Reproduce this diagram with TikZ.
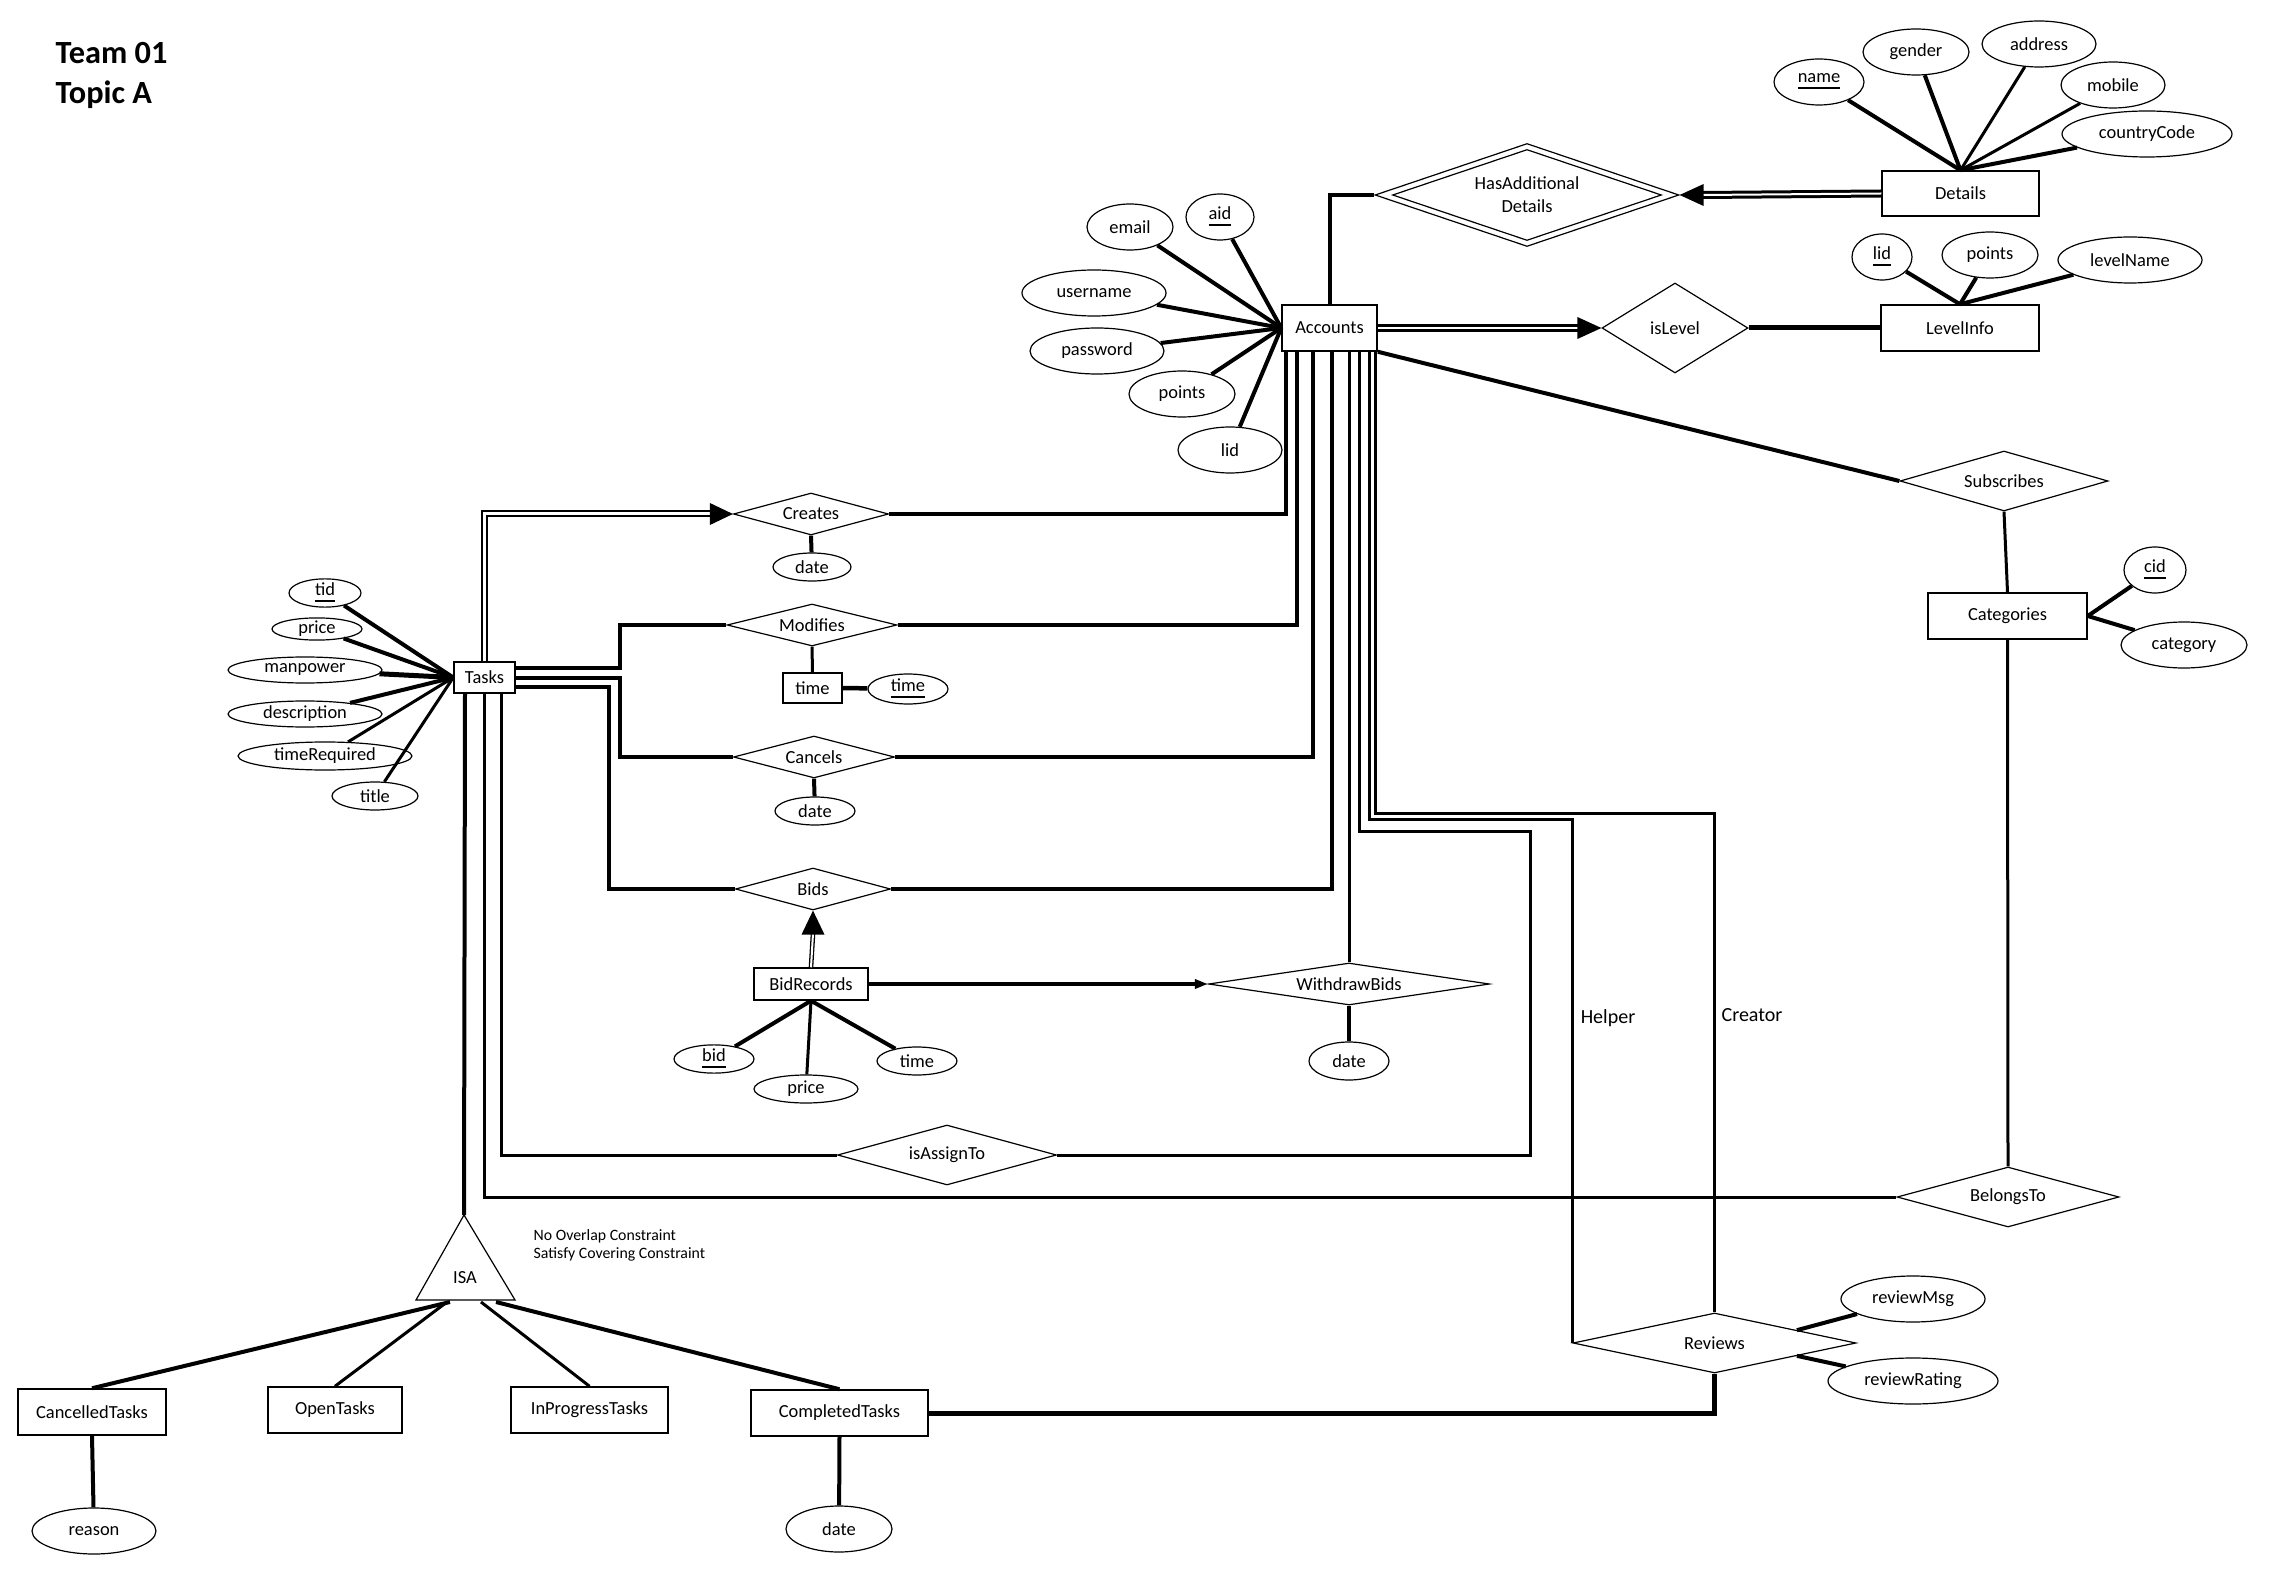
\documentclass[tikz,border=0pt]{standalone}
\usepackage{fontspec}
\setmainfont{Carlito}
\usetikzlibrary{shapes.geometric,calc,arrows.meta}
\newcommand\erlbl{\fontsize{5.25}{6.5}\selectfont}
\newcommand\erttl{\fontsize{9.2}{11}\selectfont\bfseries}
\newcommand\ernote{\fontsize{4.5}{5.4}\selectfont}
\newcommand\ersub{\fontsize{5.7}{6.8}\selectfont}
\begin{document}
\begin{tikzpicture}[x=0.1mm,y=-0.1mm,
  ent/.style={rectangle,draw,line width=0.15mm,inner sep=0pt,font=\erlbl},
  attr/.style={ellipse,draw,line width=0.12mm,inner sep=0pt,font=\erlbl},
  rel/.style={diamond,draw,line width=0.12mm,inner sep=0pt,font=\erlbl},
  lk/.style={line width=0.4mm},
  lkm/.style={line width=0.3mm},
  lkb/.style={line width=0.5mm},
  dbl/.style={double,line width=0.3mm,double distance=0.2mm},
  dbls/.style={double,line width=0.2mm,double distance=0.3mm},
  dblt/.style={double,line width=0.13mm,double distance=0.2mm},
  txt/.style={inner sep=0pt}
]
\fill[white] (0,0) rectangle (2275,1581);
\useasboundingbox (0,0) rectangle (2275,1581);

% title
\node[txt,font=\erttl,anchor=west] (t1) at (55,53) {Team 01};
\node[txt,font=\erttl,anchor=west] (t2) at (55,95) {Topic A};

% Accounts
\node[ent,minimum width=9.5mm,minimum height=4.6mm] (acc) at (1329.5,328) {Accounts};
\node[attr,minimum width=8.6mm,minimum height=4.6mm] (email) at (1130,227) {email};
\node[attr,minimum width=6.8mm,minimum height=4.6mm] (aid) at (1220,217) {\underline{aid}};
\node[attr,minimum width=14.4mm,minimum height=4.6mm] (uname) at (1094,293) {username};
\node[attr,minimum width=13.4mm,minimum height=4.6mm] (pwd) at (1097,351) {password};
\node[attr,minimum width=10.6mm,minimum height=4.6mm] (apts) at (1182,394) {points};
\node[attr,minimum width=10.4mm,minimum height=4.6mm] (alid) at (1230,450) {lid};
\foreach \a in {email,aid,uname,pwd,apts,alid} \draw[lk] (\a) -- (acc.west);

% Details
\node[ent,minimum width=15.7mm,minimum height=4.5mm] (det) at (1960.5,193.5) {Details};
\node[attr,minimum width=9mm,minimum height=4.6mm] (dname) at (1819,82) {\underline{name}};
\node[attr,minimum width=10.6mm,minimum height=4.6mm] (dgen) at (1916,52) {gender};
\node[attr,minimum width=11.4mm,minimum height=4.6mm] (daddr) at (2039,44) {address};
\node[attr,minimum width=10.4mm,minimum height=4.6mm] (dmob) at (2113,85) {mobile};
\node[attr,minimum width=17mm,minimum height=4.6mm] (dcc) at (2147,134) {countryCode};
\draw[lk] (dname) -- (det.north);
\draw[lk] (dgen) -- (det.north);
\draw[lkm] (daddr) -- (det.north);
\draw[lkm] (dmob) -- (det.north);
\draw[lk] (dcc) -- (det.north);

% HasAdditionalDetails
\node[rel,minimum width=30.4mm,minimum height=10.3mm,shape aspect=2.95,align=center] (had) at (1527,195) {HasAdditional\\Details};
\node[rel,minimum width=26.9mm,minimum height=9.1mm,shape aspect=2.95] (hadin) at (1527,195) {};
\draw[lk] (acc.north) |- (had.west);
\draw[dbl] (det.west) -- ($(had.east)+(23,0)$);
\fill (had.east) -- ++(24,-11) -- ++(0,22) -- cycle;

% isLevel / LevelInfo
\node[rel,minimum width=14.6mm,minimum height=9mm,shape aspect=1.62] (isl) at (1675,328) {isLevel};
\node[ent,minimum width=15.8mm,minimum height=4.6mm] (lvl) at (1960,328) {LevelInfo};
\node[attr,minimum width=6mm,minimum height=4.6mm] (llid) at (1882,257) {\underline{lid}};
\node[attr,minimum width=9.6mm,minimum height=4.6mm] (lpts) at (1990,255) {points};
\node[attr,minimum width=14.4mm,minimum height=4.6mm] (lname) at (2130,260) {levelName};
\draw[lk] (llid) -- (lvl.north);
\draw[lk] (lpts) -- (lvl.north);
\draw[lk] (lname) -- (lvl.north);
\draw[dbl] (acc.east) -- ($(isl.west)+(-23,0)$);
\fill (isl.west) -- ++(-24,-11) -- ++(0,22) -- cycle;
\draw[lkb] (isl.east) -- (lvl.west);

% Subscribes / Categories
\node[rel,minimum width=20.8mm,minimum height=6mm,shape aspect=3.47] (sub) at (2004,481) {Subscribes};
\draw[lk] (acc.south east) -- (sub.west);
\node[ent,minimum width=15.9mm,minimum height=4.6mm] (cat) at (2007.5,616) {Categories};
\draw[lkm] (sub.south) -- (cat.north);
\node[attr,minimum width=6.2mm,minimum height=4.6mm] (cid) at (2155,570) {\underline{cid}};
\node[attr,minimum width=12.6mm,minimum height=4.6mm] (ccat) at (2184,645) {category};
\draw[lk] (cid) -- (cat.east);
\draw[lk] (ccat) -- (cat.east);
\node[rel,minimum width=22.2mm,minimum height=6mm,shape aspect=3.7] (bel) at (2008,1197) {BelongsTo};
\draw[lkm] (cat.south) -- (bel.north);

% Tasks
\node[ent,minimum width=6.1mm,minimum height=3.1mm] (tasks) at (484.5,677.5) {Tasks};
\node[attr,minimum width=7.2mm,minimum height=2.8mm] (ttid) at (325,593) {\underline{tid}};
\node[attr,minimum width=9mm,minimum height=2.2mm] (tprice) at (317,629) {price};
\node[attr,minimum width=15.4mm,minimum height=2.6mm] (tman) at (305,670) {manpower};
\node[attr,minimum width=15.4mm,minimum height=2.6mm] (tdesc) at (305,714) {description};
\node[attr,minimum width=17.4mm,minimum height=2.8mm] (ttr) at (325,756) {timeRequired};
\node[attr,minimum width=8.6mm,minimum height=2.8mm] (ttitle) at (375,796) {title};
\draw[lk] (ttid) -- (tasks.west);
\draw[lk] (tprice) -- (tasks.west);
\draw[lkb] (tman) -- (tasks.west);
\draw[lk] (tdesc) -- (tasks.west);
\draw[lkm] (ttr) -- (tasks.west);
\draw[lkm] (ttitle) -- (tasks.west);

% Creates
\node[rel,minimum width=15.5mm,minimum height=4.2mm,shape aspect=3.69] (cre) at (811,514) {Creates};
\node[attr,minimum width=7.8mm,minimum height=2.8mm] (cred) at (812,567) {date};
\draw[lk] (cre.south) -- (cred);
\draw[dbls] (tasks.north) |- ($(cre.west)+(-22,0)$);
\fill (cre.west) -- ++(-23,-11) -- ++(0,22) -- cycle;
\draw[lk] (cre.east) -| ($(acc.south west)+(5,0)$);

% Modifies
\node[rel,minimum width=17mm,minimum height=4.2mm,shape aspect=4.05] (mod) at (812,625) {Modifies};
\node[ent,minimum width=5.9mm,minimum height=3mm] (mtime) at (812.5,688) {time};
\node[attr,minimum width=8mm,minimum height=3mm] (mtimea) at (908,689) {\underline{time}};
\draw[lkm] (mod.south) -- (mtime.north);
\draw[line width=0.45mm] (mtime.east) -- (mtimea);
\draw[lk] ($(tasks.east)+(0,-10)$) -| ($(mod.west)+(-106,0)$) -- (mod.west);
\draw[lk] (mod.east) -| ($(acc.south west)+(16,0)$);

% Cancels
\node[rel,minimum width=16.1mm,minimum height=4.2mm,shape aspect=3.83] (can) at (814,757) {Cancels};
\node[attr,minimum width=8mm,minimum height=2.8mm] (cand) at (815,811) {date};
\draw[lk] (can.south) -- (cand);
\draw[lk] (tasks.east) -| ($(can.west)+(-113,0)$) -- (can.west);
\draw[lk] (can.east) -| ($(acc.south west)+(32,0)$);

% Bids
\node[rel,minimum width=15.5mm,minimum height=4.2mm,shape aspect=3.69] (bids) at (813,889) {Bids};
\draw[lk] ($(tasks.east)+(0,9)$) -| ($(bids.west)+(-126,0)$) -- (bids.west);
\draw[lk] (bids.east) -| ($(acc.south west)+(51,0)$);

% BidRecords
\node[ent,minimum width=11.4mm,minimum height=3.2mm] (brec) at (811,984) {BidRecords};
\draw[dblt] (brec.north) -- ($(bids.south)+(0,23)$);
\fill (bids.south) -- ++(-11.5,24) -- ++(23,0) -- cycle;
\node[attr,minimum width=8mm,minimum height=2.8mm] (bbid) at (714,1059) {\underline{bid}};
\node[attr,minimum width=10.4mm,minimum height=2.8mm] (bprice) at (806,1089) {price};
\node[attr,minimum width=8mm,minimum height=2.8mm] (btime) at (917,1061) {time};
\draw[lk] (brec.south) -- (bbid);
\draw[lkm] (brec.south) -- (bprice);
\draw[lk] (brec.south) -- (btime);

% WithdrawBids
\node[rel,minimum width=28.1mm,minimum height=4.2mm,shape aspect=6.69] (wb) at (1349,984) {WithdrawBids};
\draw[lk,-{Triangle[length=1.3mm,width=0.9mm]}] (brec.east) -- (wb.west);
\node[attr,minimum width=8mm,minimum height=3.8mm] (wbd) at (1349,1061) {date};
\draw[lk] (wb.south) -- (wbd);
\draw[lkm] (wb.north) -- (wb.north |- acc.south);

% isAssignTo
\node[rel,minimum width=21.9mm,minimum height=6mm,shape aspect=3.65] (asg) at (947,1155) {isAssignTo};
\draw[lkm] ($(tasks.south)+(16.5,0)$) |- (asg.west);
\draw[lkm] (asg.east) -| ($(asg.east)+(473,-324)$) -| ($(acc.south west)+(78,0)$);

% BelongsTo from Tasks
\draw[lkm] (tasks.south) |- (bel.west);

% ISA
\coordinate (isatop) at (464,1215);
\coordinate (isabl) at (416,1300);
\coordinate (isabr) at (515,1300);
\draw[line width=0.12mm] (isatop) -- (isabl) -- (isabr) -- cycle;
\node[txt,font=\erlbl] (isa) at (465,1278) {ISA};
\draw[lk] ($(tasks.south)+(-19.5,0)$) -- (isatop);
\node[txt,font=\ernote,anchor=west] (c1) at (533,1236) {No Overlap Constraint};
\node[txt,font=\ernote,anchor=west] (c2) at (533,1254) {Satisfy Covering Constraint};

\node[ent,minimum width=14.8mm,minimum height=4.6mm] (ct) at (92,1412) {CancelledTasks};
\node[ent,minimum width=13.4mm,minimum height=4.6mm] (ot) at (335,1410) {OpenTasks};
\node[ent,minimum width=15.7mm,minimum height=4.6mm] (ipt) at (589.5,1410) {InProgressTasks};
\node[ent,minimum width=17.7mm,minimum height=4.6mm] (cpt) at (839.5,1413) {CompletedTasks};
\coordinate (isab1) at (450,1302);
\coordinate (isab2) at (447,1302);
\coordinate (isab3) at (481,1302);
\coordinate (isab4) at (496,1302);
\draw[lk] (isab1) -- (ct.north);
\draw[lkm] (isab2) -- (ot.north);
\draw[lkm] (isab3) -- (ipt.north);
\draw[lk] (isab4) -- (cpt.north);
\node[attr,minimum width=12.4mm,minimum height=4.6mm] (rsn) at (94,1531) {reason};
\draw[lk] (ct.south) -- (rsn);
\node[attr,minimum width=10.6mm,minimum height=4.6mm] (cptd) at (839,1529) {date};
\draw[lk] (cpt.south) -- (cptd);

% Reviews
\node[rel,minimum width=28.3mm,minimum height=6mm,shape aspect=4.72] (rev) at (1714.5,1343) {Reviews};
\node[attr,minimum width=14.4mm,minimum height=4.6mm] (rmsg) at (1913,1299) {reviewMsg};
\node[attr,minimum width=17mm,minimum height=4.6mm] (rrat) at (1913,1381) {reviewRating};
\draw[lk] ($(rev.north)!0.58!(rev.east)$) -- (rmsg);
\draw[lk] ($(rev.south)!0.58!(rev.east)$) -- (rrat);
\draw[lkb] (rev.south) |- (cpt.east);
\draw[lkm] ($(acc.south west)+(88,0)$) |- (rev.west |- 0,819) -- (rev.west);
\draw[lkm] ($(acc.south west)+(94,0)$) |- (rev.north |- 0,813) -- (rev.north);
\node[txt,font=\ersub] (helper) at (1608,1018) {Helper};
\node[txt,font=\ersub] (creator) at (1752,1015) {Creator};
\end{tikzpicture}
\end{document}
